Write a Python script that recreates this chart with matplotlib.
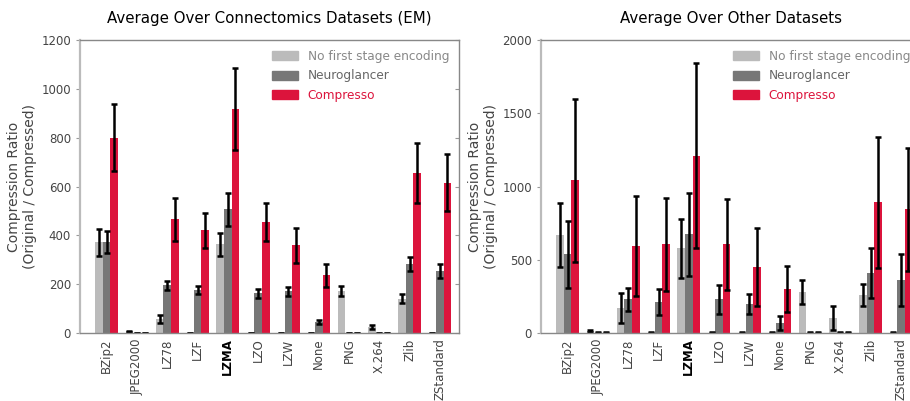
import numpy as np
import matplotlib
matplotlib.use('Agg')
import matplotlib.pyplot as plt
import matplotlib.lines as mlines
from matplotlib.patches import Patch

# ==== Data ====
codecs = ['BZip2', 'JPEG2000', 'LZ78', 'LZF', 'LZMA', 'LZO', 'LZW',
          'None', 'PNG', 'X.264', 'Zlib', 'ZStandard']

# connectomics (EM) datasets
em_plain = [371, 8, 57, 1, 363, 1, 1, 1, 171, 25, 141, 1]
em_plain_err = [56, 2, 17, 1, 47, 1, 1, 1, 21, 9, 17, 1]
em_neuro = [371, 1, 196, 175, 506, 162, 171, 45, 1, 1, 282, 253]
em_neuro_err = [45, 1, 18, 17, 68, 18, 19, 9, 1, 1, 30, 29]
em_comp = [800, 1, 465, 420, 918, 453, 359, 237, 1, 1, 656, 616]
em_comp_err = [137, 1, 87, 73, 168, 78, 72, 47, 1, 1, 124, 116]

# other datasets
ot_plain = [667, 14, 170, 2, 578, 2, 2, 2, 279, 102, 259, 2]
ot_plain_err = [218, 8, 100, 2, 200, 2, 2, 2, 82, 80, 76, 2]
ot_neuro = [537, 2, 231, 211, 673, 231, 197, 68, 2, 2, 408, 361]
ot_neuro_err = [229, 2, 79, 86, 285, 100, 67, 45, 2, 2, 172, 175]
ot_comp = [1041, 2, 592, 605, 1211, 605, 449, 299, 2, 2, 891, 844]
ot_comp_err = [559, 2, 341, 315, 634, 312, 268, 155, 2, 2, 446, 421]

c_plain = '#bbbbbb'
c_neuro = '#777777'
c_comp = '#dc143c'
txt = '#444444'


def draw_panel(ax, plain, plain_err, neuro, neuro_err, comp, comp_err,
               title, ymax, yticks):
    x = np.arange(len(codecs))
    w = 0.25
    ekw = dict(ecolor='black', elinewidth=1.8, capsize=2, capthick=1.8)
    ax.bar(x - w, plain, w, yerr=plain_err, color=c_plain, error_kw=ekw)
    ax.bar(x, neuro, w, yerr=neuro_err, color=c_neuro, error_kw=ekw)
    ax.bar(x + w, comp, w, yerr=comp_err, color=c_comp, error_kw=ekw)

    ax.set_xlim(-0.88, 11.63)
    ax.set_ylim(0, ymax)
    ax.set_yticks(yticks)
    ax.set_xticks(x)
    ax.set_xticklabels(codecs, rotation=90, fontsize=8.5, color=txt)
    for lab in ax.get_xticklabels():
        if lab.get_text() == 'LZMA':
            lab.set_fontweight('bold')
            lab.set_color('black')
    ax.tick_params(axis='x', length=0, pad=4)
    ax.tick_params(axis='y', labelsize=8.5, labelcolor=txt, color='#999999',
                   right=True, direction='out', length=3)
    # right side ticks point inward
    for t in ax.yaxis.get_major_ticks():
        t.tick2line.set_marker(mlines.TICKLEFT)

    ax.spines['left'].set_color('#bbbbbb')
    ax.spines['left'].set_linewidth(1.6)
    for s in ['top', 'right', 'bottom']:
        ax.spines[s].set_color('#888888')
        ax.spines[s].set_linewidth(1.0)

    ax.set_title(title, fontsize=10.8, pad=12)
    ax.set_ylabel('Compression Ratio\n(Original / Compressed)',
                  fontsize=10, color=txt, labelpad=3)

    handles = [Patch(color=c_plain, label='No first stage encoding'),
               Patch(color=c_neuro, label='Neuroglancer'),
               Patch(color=c_comp, label='Compresso')]
    leg = ax.legend(handles=handles, frameon=False, loc='upper right',
                    fontsize=8.7, handlelength=2.2, handleheight=0.75,
                    handletextpad=0.8, borderaxespad=0.4, labelspacing=0.55)
    for t, c in zip(leg.get_texts(), ['#888888', '#666666', c_comp]):
        t.set_color(c)


fig = plt.figure(figsize=(9.10, 4.01), dpi=100)
ax1 = fig.add_axes([80 / 910, (401 - 333) / 401, 379 / 910, 293 / 401])
ax2 = fig.add_axes([541 / 910, (401 - 333) / 401, 379 / 910, 293 / 401])

draw_panel(ax1, em_plain, em_plain_err, em_neuro, em_neuro_err,
           em_comp, em_comp_err, 'Average Over Connectomics Datasets (EM)',
           1200, [0, 200, 400, 600, 800, 1000, 1200])
draw_panel(ax2, ot_plain, ot_plain_err, ot_neuro, ot_neuro_err,
           ot_comp, ot_comp_err, 'Average Over Other Datasets',
           2000, [0, 500, 1000, 1500, 2000])

fig.savefig('out.png', dpi=100)
